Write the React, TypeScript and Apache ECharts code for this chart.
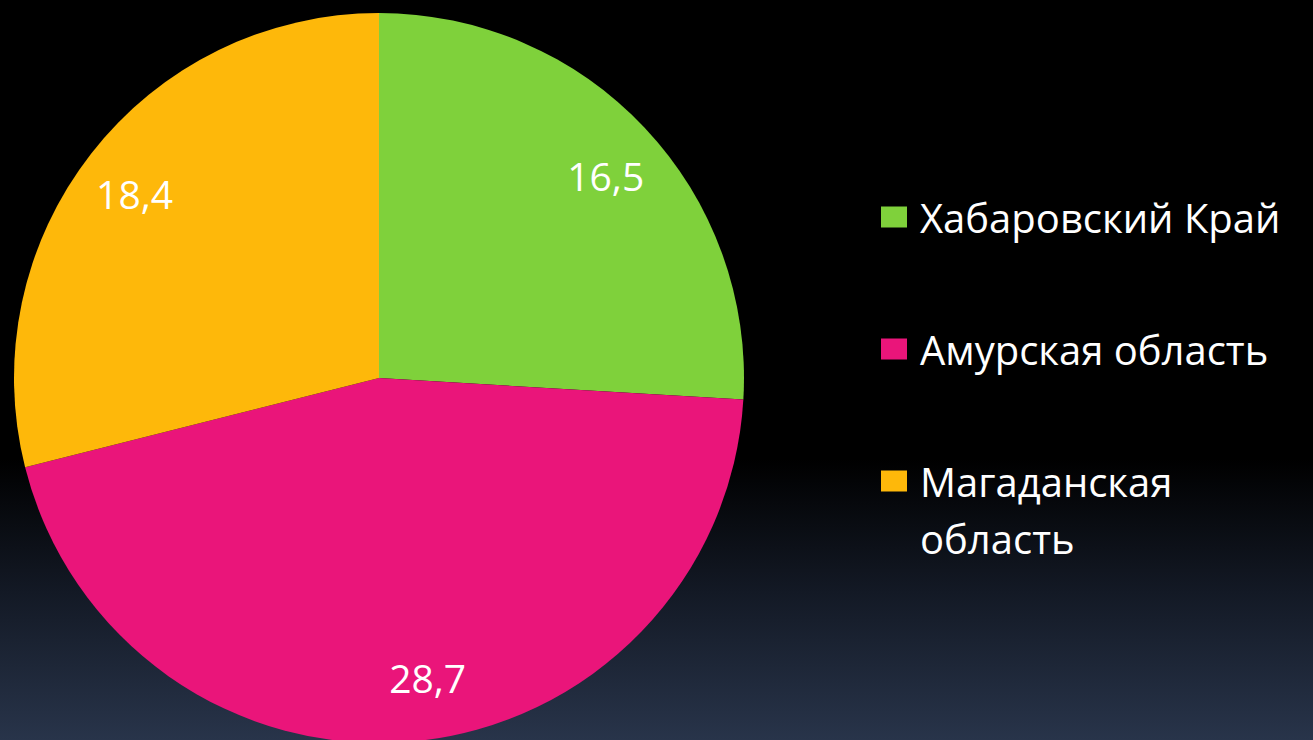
import React, { useEffect, useRef } from "react";
import * as echarts from "echarts";

const categories = ["Хабаровский Край", "Амурская область", "Магаданская\nобласть"];
const values = [16.5, 28.7, 18.4];
const colors = ["#7FD13B", "#EA157A", "#FEB80A"];

export default function App() {
  const ref = useRef<HTMLDivElement>(null);
  useEffect(() => {
    if (!ref.current) return;
    const chart = echarts.init(ref.current, null, { renderer: "svg" });
    const data = categories.map((c, i) => ({
      name: c,
      value: values[i],
      itemStyle: { color: colors[i] },
    }));
    const labelOffsets = [
      [4, 7],
      [20, -5],
      [-3, 4],
    ];
    const legendMid = [217, 349, 481];
    const graphic: any[] = [];
    categories.forEach((c, i) => {
      graphic.push({
        type: "rect",
        shape: { x: 881, y: legendMid[i] - 10.5, width: 26, height: 21 },
        style: { fill: colors[i] },
      });
      graphic.push({
        type: "text",
        x: 920,
        y: legendMid[i] - 28.5,
        style: {
          text: c,
          fill: "#ffffff",
          font: "40px 'Open Sans'",
          lineHeight: 57,
          verticalAlign: "top",
        },
      });
    });
    chart.setOption({
      animation: false,
      backgroundColor: new echarts.graphic.LinearGradient(0, 0, 0, 1, [
        { offset: 0, color: "#000000" },
        { offset: 0.62, color: "#000000" },
        { offset: 0.8, color: "#131925" },
        { offset: 1, color: "#28344a" },
      ]),
      graphic,
      series: [
        {
          type: "pie",
          center: [379, 378],
          radius: [0, 365],
          startAngle: 90,
          clockwise: true,
          label: { show: false },
          labelLine: { show: false },
          emphasis: { disabled: true },
          itemStyle: { borderWidth: 0 },
          data,
        },
        {
          type: "pie",
          center: [379, 378],
          radius: [241, 365],
          startAngle: 90,
          clockwise: true,
          silent: true,
          emphasis: { disabled: true },
          itemStyle: { color: "rgba(0,0,0,0)", borderWidth: 0 },
          label: {
            show: true,
            position: "inside",
            rotate: 0,
            color: "#ffffff",
            fontSize: 39,
            fontFamily: "Open Sans",
            formatter: (p: any) => String(p.value).replace(".", ","),
          },
          labelLine: { show: false },
          data: categories.map((c, i) => ({
            name: c + " ",
            value: values[i],
            label: { offset: labelOffsets[i] },
          })),
        },
      ],
    });
    return () => chart.dispose();
  }, []);
  return (
    <div
      ref={ref}
      style={{ position: "fixed", left: 0, top: 0, width: 1313, height: 740 }}
    />
  );
}
